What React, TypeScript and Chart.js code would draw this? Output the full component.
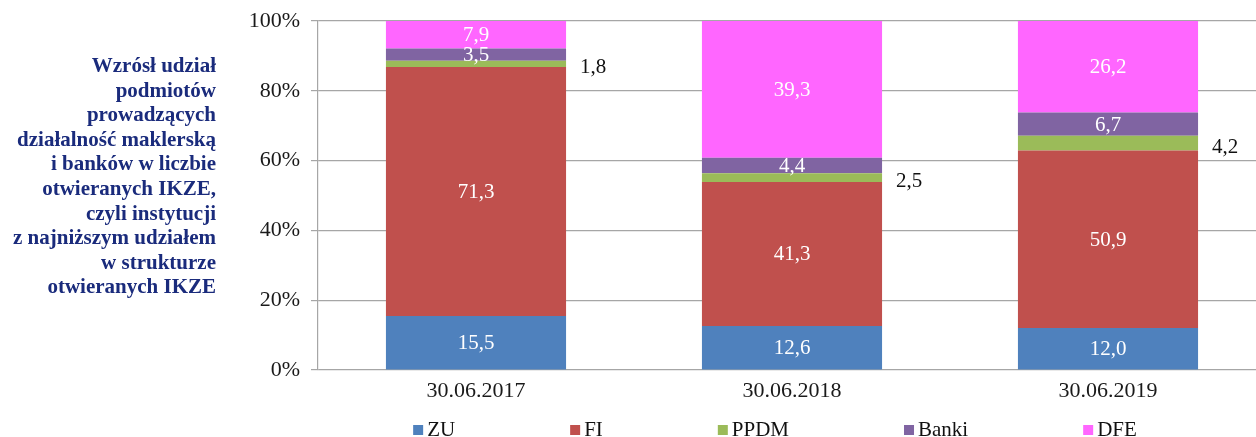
import React, { useEffect, useRef } from "react";
import { Chart, registerables } from "chart.js";

Chart.register(...registerables);

const categories = ["30.06.2017", "30.06.2018", "30.06.2019"];
const seriesNames = ["ZU", "FI", "PPDM", "Banki", "DFE"];
const zuValues = [15.5, 12.6, 12.0];
const fiValues = [71.3, 41.3, 50.9];
const ppdmValues = [1.8, 2.5, 4.2];
const bankiValues = [3.5, 4.4, 6.7];
const dfeValues = [7.9, 39.3, 26.2];
const seriesColors = ["#4F81BD", "#C0504D", "#9BBB59", "#8064A2", "#FF66FF"];
const yTicks = [0, 20, 40, 60, 80, 100];
const sideTextLines = [
  "Wzrósł udział",
  "podmiotów",
  "prowadzących",
  "działalność maklerską",
  "i banków w liczbie",
  "otwieranych IKZE,",
  "czyli instytucji",
  "z najniższym udziałem",
  "w strukturze",
  "otwieranych IKZE",
];

const FONT = "'Liberation Serif', 'Times New Roman', serif";

const fmt = (v: number) => v.toFixed(1).replace(".", ",");

const labelsPlugin = {
  id: "segLabels",
  afterDatasetsDraw(chart: any) {
    const ctx = chart.ctx;
    ctx.save();
    ctx.font = `21px ${FONT}`;
    chart.data.datasets.forEach((ds: any, di: number) => {
      const meta = chart.getDatasetMeta(di);
      meta.data.forEach((bar: any, i: number) => {
        const v = ds.data[i];
        const props = bar.getProps(["x", "y", "base", "width"], true);
        const cy = (props.y + props.base) / 2;
        if (di === 2) {
          ctx.fillStyle = "#111";
          ctx.textAlign = "left";
          ctx.textBaseline = "middle";
          ctx.fillText(fmt(v), props.x + props.width / 2 + 14, cy + 4);
        } else {
          ctx.fillStyle = "#ffffff";
          ctx.textAlign = "center";
          ctx.textBaseline = "middle";
          ctx.fillText(fmt(v), props.x, cy + 1);
        }
      });
    });
    ctx.restore();
  },
};

const legendPlugin = {
  id: "customLegend",
  afterDraw(chart: any) {
    const ctx = chart.ctx;
    ctx.save();
    ctx.font = `21px ${FONT}`;
    const box = 10;
    const textGap = 14;
    const gap = 115;
    const centerX = 775;
    const y = 430;
    const items = chart.data.datasets.map((ds: any) => ({
      text: ds.label,
      color: ds.backgroundColor,
      w: textGap + ctx.measureText(ds.label).width,
    }));
    const total = items.reduce((s: number, it: any) => s + it.w, 0) + gap * (items.length - 1);
    let x = centerX - total / 2;
    items.forEach((it: any) => {
      ctx.fillStyle = it.color;
      ctx.fillRect(x, y - box / 2, box, box);
      ctx.fillStyle = "#111";
      ctx.textAlign = "left";
      ctx.textBaseline = "middle";
      ctx.fillText(it.text, x + textGap, y);
      x += it.w + gap;
    });
    ctx.restore();
  },
};

export default function App() {
  const ref = useRef<HTMLCanvasElement | null>(null);

  useEffect(() => {
    if (!ref.current) return;
    const valuesList = [zuValues, fiValues, ppdmValues, bankiValues, dfeValues];
    const chart = new Chart(ref.current, {
      type: "bar",
      data: {
        labels: categories,
        datasets: seriesNames.map((name, i) => ({
          label: name,
          data: valuesList[i],
          backgroundColor: seriesColors[i],
          borderWidth: 0,
          barPercentage: 0.57,
          categoryPercentage: 1,
        })),
      },
      options: {
        responsive: false,
        animation: false,
        devicePixelRatio: 1,
        layout: { padding: { left: 0, right: 14, top: 21, bottom: 22 } },
        plugins: {
          legend: { display: false },
          tooltip: { enabled: false },
        },
        scales: {
          x: {
            stacked: true,
            grid: { display: false },
            border: { display: false },
            ticks: {
              color: "#1a1a1a",
              font: { family: FONT, size: 22 },
              padding: 0,
            },
            afterFit: (s: any) => {
              s.height = 45;
              s.paddingLeft = 0;
              s.paddingRight = 0;
            },
          },
          y: {
            stacked: true,
            min: 0,
            max: 100,
            afterBuildTicks: (s: any) => {
              s.ticks = yTicks.map((v) => ({ value: v }));
            },
            ticks: {
              callback: (v: any) => `${v}%`,
              color: "#1a1a1a",
              font: { family: FONT, size: 22 },
              padding: 11,
            },
            grid: { color: "#a6a6a6", lineWidth: 1.2, tickLength: 7 },
            border: { color: "#a6a6a6", width: 1.2 },
            afterFit: (s: any) => {
              s.width = 318;
              s.paddingTop = 0;
              s.paddingBottom = 0;
            },
          },
        },
      },
      plugins: [labelsPlugin, legendPlugin],
    });
    return () => chart.destroy();
  }, []);

  return (
    <div
      style={{
        position: "fixed",
        left: 0,
        top: 0,
        width: 1256,
        height: 437,
        overflow: "hidden",
        background: "#ffffff",
      }}
    >
      <canvas
        ref={ref}
        width={1280}
        height={437}
        style={{ position: "absolute", left: 0, top: 0, width: 1280, height: 437 }}
      />
      <div
        style={{
          position: "absolute",
          right: 1256 - 216,
          top: 53,
          textAlign: "right",
          fontFamily: FONT,
          fontWeight: "bold",
          fontSize: 21,
          lineHeight: "24.6px",
          color: "#1a2b7c",
          whiteSpace: "nowrap",
        }}
      >
        {sideTextLines.map((l, i) => (
          <div key={i}>{l}</div>
        ))}
      </div>
    </div>
  );
}
